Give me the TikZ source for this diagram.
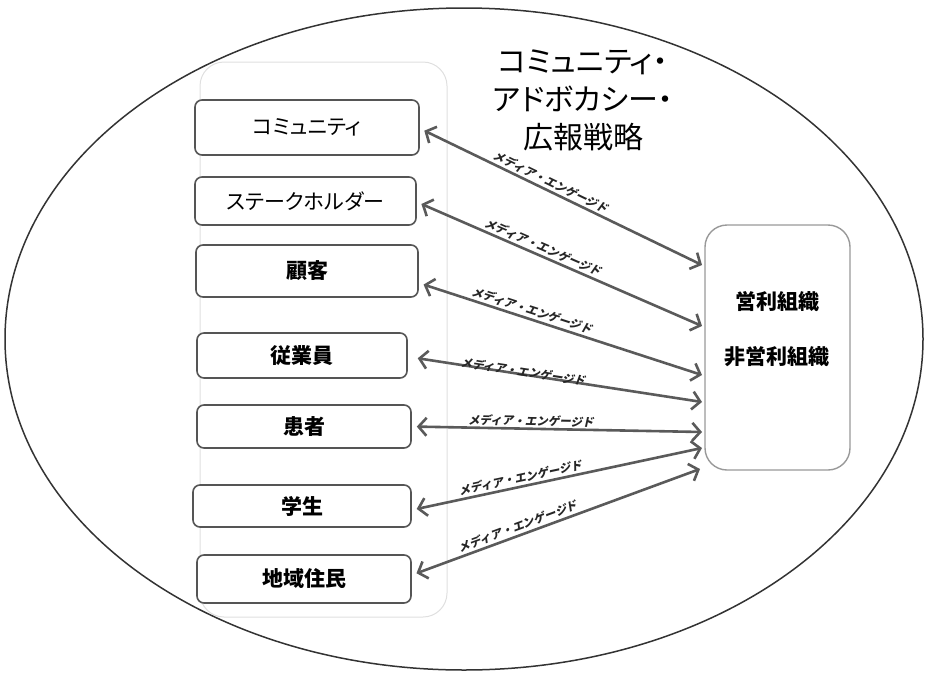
\documentclass[tikz,border=0pt]{standalone}
\usepackage{fontspec}
\setmainfont{Noto Sans CJK JP}[RawFeature=+palt]
\newfontfamily\lblfont{Noto Sans CJK JP}[FakeSlant=0.2]
\usetikzlibrary{arrows.meta}
\definecolor{arrowgray}{HTML}{5A5A5A}
\definecolor{boxgray}{HTML}{555555}
\tikzset{
  stakebox/.style={draw=boxgray,line width=1.6pt,rounded corners=7pt,fill=white,
    inner sep=0pt,font=\fontsize{21}{24}\selectfont},
  orgbox/.style={draw=gray!80,line width=1.4pt,rounded corners=22pt,fill=white,inner sep=0pt},
  container/.style={draw=gray!25,line width=1pt,rounded corners=24pt},
  link/.style={draw=arrowgray,line width=2.6pt,
    {Straight Barb[length=8pt,width=18pt]}-{Straight Barb[length=8pt,width=18pt]},
    shorten <=5pt},
  mlabel/.style={font=\lblfont\bfseries\fontsize{11.5}{12}\selectfont,text=black!85,sloped,inner sep=1pt}
}
\begin{document}
\begin{tikzpicture}[x=1pt,y=-1pt]
\useasboundingbox (0,0) rectangle (929,678);
% big ellipse
\draw[line width=1.5pt,draw=black!80] (464,339) ellipse [x radius=459, y radius=331];
% container
\node[container,minimum width=247pt,minimum height=555pt] (cont) at (323.5,339.5) {};
% title
\node[align=center,font=\fontsize{30}{38}\selectfont] (title) at (583,100)
  {コミュニティ・\\アドボカシー・\\広報戦略};
% stakeholder boxes
\node[stakebox,minimum width=224pt,minimum height=55pt] (c1) at (307,127.5) {コミュニティ};
\node[stakebox,minimum width=221pt,minimum height=48pt] (c2) at (305.5,201) {ステークホルダー};
\node[stakebox,minimum width=222pt,minimum height=52pt] (c3) at (307,271) {\bfseries 顧客};
\node[stakebox,minimum width=210pt,minimum height=45pt] (c4) at (302,355.5) {\bfseries 従業員};
\node[stakebox,minimum width=214pt,minimum height=43pt] (c5) at (304,426.5) {\bfseries 患者};
\node[stakebox,minimum width=218pt,minimum height=42pt] (c6) at (302,506) {\bfseries 学生};
\node[stakebox,minimum width=214pt,minimum height=48pt] (c7) at (304,579) {\bfseries 地域住民};
% organisation box
\node[orgbox,minimum width=145pt,minimum height=245pt] (org) at (777.5,347.5) {};
\node[font=\bfseries\fontsize{21}{24}\selectfont] (org1) at (777,302) {営利組織};
\node[font=\bfseries\fontsize{21}{24}\selectfont] (org2) at (777,357) {非営利組織};
% end points on the organisation box
\coordinate (r1) at (702,265);
\coordinate (r2) at (702,326);
\coordinate (r3) at (702,375);
\coordinate (r4) at (702,402);
\coordinate (r5) at (702,432);
\coordinate (r6) at (702,448);
\coordinate (r7) at (700,469);
% connectors
\draw[link] ([yshift=-1pt]c1.east) -- node[mlabel,pos=0.45,above=1pt] (l1) {メディア・エンゲージド} (r1);
\draw[link] ([yshift=-1pt]c2.east) -- node[mlabel,pos=0.43,above=1pt] (l2) {メディア・エンゲージド} (r2);
\draw[link] ([yshift=-12pt]c3.east) -- node[mlabel,pos=0.39,above=1pt] (l3) {メディア・エンゲージド} (r3);
\draw[link] ([yshift=-2pt,xshift=5pt]c4.east) -- node[mlabel,pos=0.38,above=-5pt] (l4) {メディア・エンゲージド} (r4);
\draw[link] ([yshift=0pt]c5.east) -- node[mlabel,pos=0.41,above=0pt] (l5) {メディア・エンゲージド} (r5);
\draw[link] ([yshift=-4pt]c6.east) -- node[mlabel,pos=0.38,above=1pt] (l6) {メディア・エンゲージド} (r6);
\draw[link] ([yshift=4pt]c7.east) -- node[mlabel,pos=0.38,above=1pt] (l7) {メディア・エンゲージド} (r7);
\end{tikzpicture}
\end{document}
